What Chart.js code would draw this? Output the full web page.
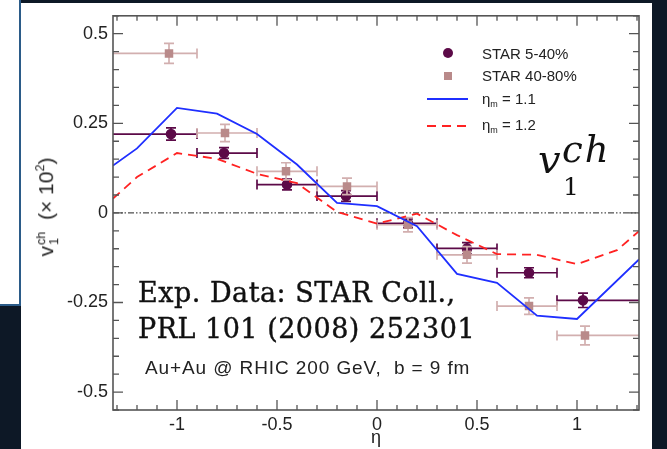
<!DOCTYPE html>
<html>
<head>
<meta charset="utf-8">
<script src="https://cdn.jsdelivr.net/npm/chart.js@4.4.0/dist/chart.umd.min.js"></script>
<style>
  body { margin: 0; background: #0d1826; }
  #wrap { position: relative; width: 667px; height: 449px; overflow: hidden; background: #0d1826; }
  #sidebox { position: absolute; left: 0; top: 0; width: 19px; height: 304px; background: #fff;
             border-right: 2px solid #2b5b88; border-bottom: 2px solid #2b5b88; }
  #panel { position: absolute; left: 21px; top: 3px; width: 631px; height: 446px; background: #fff; }
  canvas { position: absolute; left: 0; top: 0; }
  .txt { position: absolute; white-space: nowrap; line-height: 1; color: #222; }
  .sans { font-family: "Liberation Sans", Arial, sans-serif; }
  .slab { font-family: "DejaVu Serif", serif; color: #111; -webkit-text-stroke: 0.4px #111; }
  .mark { position: absolute; }
  sub.m { font-size: 0.6em; vertical-align: -0.35em; }
  #ytitle { position: absolute; left: 48px; top: 207px; transform: translate(-50%, -50%) rotate(-90deg);
            font-family: "Liberation Sans", Arial, sans-serif; font-size: 21px; color: #222; white-space: nowrap; line-height: 1; }
  .stk { display: inline-block; vertical-align: -0.45em; font-size: 0.6em; line-height: 1.05; margin-left: 1px; }
  .stk span { display: block; }
  .sup2 { font-size: 0.6em; vertical-align: 0.7em; }
</style>
</head>
<body>
<div id="wrap">
  <div id="sidebox"></div>
  <div id="panel"></div>
  <canvas id="v1-chart" width="667" height="449"></canvas>

  <div id="ytitle">v<span class="stk"><span>ch</span><span>1</span></span>&nbsp;&nbsp;(× 10<span class="sup2">2</span>)</div>

  <div class="mark" style="left:443px;top:48px;width:10px;height:10px;border-radius:50%;background:#5c0a48"></div>
  <div class="mark" style="left:444px;top:72px;width:8px;height:8px;background:#b98a8a"></div>
  <div class="mark" style="left:427px;top:98px;width:41px;height:2px;background:#1f2fff"></div>
  <div class="mark" style="left:427px;top:125px;width:41px;height:2px;background:repeating-linear-gradient(to right,#ff2222 0 9px,transparent 9px 15px)"></div>
  <div class="txt sans" style="left:482px;top:46px;font-size:15px">STAR 5-40%</div>
  <div class="txt sans" style="left:482px;top:68px;font-size:15px">STAR 40-80%</div>
  <div class="txt sans" style="left:482px;top:91px;font-size:15px">η<sub class="m">m</sub> = 1.1</div>
  <div class="txt sans" style="left:482px;top:117px;font-size:15px">η<sub class="m">m</sub> = 1.2</div>

  <div class="txt" style="left:538px;top:139px;font-size:40px;font-family:'DejaVu Serif',serif;font-style:italic;color:#111">v</div>
  <div class="txt" style="left:562px;top:131px;font-size:37px;letter-spacing:2px;font-family:'DejaVu Serif',serif;font-style:italic;color:#111">ch</div>
  <div class="txt" style="left:563px;top:174px;font-size:25px;font-family:'DejaVu Serif',serif;color:#111">1</div>

  <div class="txt slab" style="left:138px;top:279px;font-size:27px;letter-spacing:0.5px">Exp. Data: STAR Coll.,</div>
  <div class="txt slab" style="left:138px;top:315px;font-size:27px;letter-spacing:0.5px">PRL 101 (2008) 252301</div>
  <div class="txt sans" style="left:145px;top:358px;font-size:19px;letter-spacing:0.9px">Au+Au @ RHIC 200 GeV,&nbsp; b = 9 fm</div>
</div>

<script>
// STAR data, eta bins shared by both centralities
const etaBinLo = [-1.4, -0.9, -0.6, -0.3, 0.0, 0.3, 0.6, 0.9]
const etaBinHi = [-0.9, -0.6, -0.3, 0.0, 0.3, 0.6, 0.9, 1.4]

const etaCentral = [-1.03, -0.765, -0.45, -0.155, 0.155, 0.45, 0.76, 1.03]
const v1Central = [0.220, 0.167, 0.079, 0.047, -0.029, -0.099, -0.167, -0.244]
const v1CentralErr = [0.017, 0.015, 0.015, 0.015, 0.012, 0.016, 0.014, 0.020]

const etaPeripheral = [-1.04, -0.76, -0.455, -0.15, 0.155, 0.45, 0.76, 1.04]
const v1Peripheral = [0.445, 0.223, 0.116, 0.074, -0.033, -0.117, -0.260, -0.342]
const v1PeripheralErr = [0.028, 0.024, 0.024, 0.023, 0.020, 0.023, 0.023, 0.026]

// model curves
const etaModel11 = [-1.32, -1.2, -1.0, -0.8, -0.6, -0.4, -0.2, 0.0, 0.2, 0.4, 0.6, 0.8, 1.0, 1.31]
const v1Model11 = [0.132, 0.180, 0.293, 0.277, 0.220, 0.135, 0.028, 0.019, -0.037, -0.170, -0.195, -0.287, -0.296, -0.130]

const etaModel12 = [-1.32, -1.2, -1.0, -0.8, -0.6, -0.4, -0.2, 0.0, 0.2, 0.4, 0.6, 0.8, 1.0, 1.2, 1.31]
const v1Model12 = [0.040, 0.100, 0.167, 0.151, 0.109, 0.083, 0.003, -0.030, -0.002, -0.062, -0.115, -0.117, -0.143, -0.104, -0.051]

const xTicks = [-1, -0.5, 0, 0.5, 1]
const yTicks = [-0.5, -0.25, 0, 0.25, 0.5]

const toPoints = (xs, ys) => xs.map((x, i) => ({ x: x, y: ys[i] }))

// error bars drawn under each scatter set's markers
const errorBars = {
    id: "errorBars",
    beforeDatasetDraw(chart, args) {
        const ds = chart.data.datasets[args.index]
        if (!ds.errors) return
        const { ctx, chartArea } = chart
        const x = chart.scales.x, y = chart.scales.y
        ctx.save()
        ctx.beginPath()
        ctx.rect(chartArea.left, chartArea.top, chartArea.width, chartArea.height)
        ctx.clip()
        ctx.strokeStyle = ds.errors.color
        ctx.lineWidth = 1.7
        ds.data.forEach((p, i) => {
            const px = x.getPixelForValue(p.x), py = y.getPixelForValue(p.y)
            const xl = x.getPixelForValue(ds.errors.lo[i]), xh = x.getPixelForValue(ds.errors.hi[i])
            const yt = y.getPixelForValue(p.y + ds.errors.dy[i]), yb = y.getPixelForValue(p.y - ds.errors.dy[i])
            ctx.beginPath()
            ctx.moveTo(xl, py); ctx.lineTo(xh, py)
            ctx.moveTo(xl, py - 5); ctx.lineTo(xl, py + 5)
            ctx.moveTo(xh, py - 5); ctx.lineTo(xh, py + 5)
            ctx.moveTo(px, yt); ctx.lineTo(px, yb)
            ctx.moveTo(px - 5, yt); ctx.lineTo(px + 5, yt)
            ctx.moveTo(px - 5, yb); ctx.lineTo(px + 5, yb)
            ctx.stroke()
        })
        ctx.restore()
    }
}

// box, inward ticks on all four sides, dash-dot zero line
const frame = {
    id: "frame",
    beforeDatasetsDraw(chart) {
        const { ctx, chartArea } = chart
        const y0 = chart.scales.y.getPixelForValue(0)
        ctx.save()
        ctx.strokeStyle = "#222"
        ctx.lineWidth = 1
        ctx.setLineDash([6, 2, 1.5, 2, 1.5, 2])
        ctx.beginPath()
        ctx.moveTo(chartArea.left, y0)
        ctx.lineTo(chartArea.right, y0)
        ctx.stroke()
        ctx.restore()
    },
    afterDraw(chart) {
        const { ctx, chartArea: a } = chart
        const x = chart.scales.x, y = chart.scales.y
        ctx.save()
        ctx.strokeStyle = "#555"
        ctx.lineWidth = 1.6
        ctx.strokeRect(a.left, a.top, a.width, a.height)
        ctx.lineWidth = 1.3
        ctx.beginPath()
        for (let i = Math.ceil(x.min * 10); i <= Math.floor(x.max * 10); i++) {
            const px = x.getPixelForValue(i / 10)
            const len = i % 5 === 0 ? 10 : 5
            ctx.moveTo(px, a.bottom); ctx.lineTo(px, a.bottom - len)
            ctx.moveTo(px, a.top); ctx.lineTo(px, a.top + len)
        }
        for (let i = Math.ceil(y.min * 20); i <= Math.floor(y.max * 20); i++) {
            const py = y.getPixelForValue(i / 20)
            const len = i % 5 === 0 ? 10 : 6
            ctx.moveTo(a.left, py); ctx.lineTo(a.left + len, py)
            ctx.moveTo(a.right, py); ctx.lineTo(a.right - len, py)
        }
        ctx.stroke()
        ctx.restore()
    }
}

const tickFont = { family: "'Liberation Sans', Arial, sans-serif", size: 18 }

new Chart("v1-chart", {
    type: "scatter",
    data: {
        datasets: [
            {
                type: "line",
                label: "η_m = 1.1",
                data: toPoints(etaModel11, v1Model11),
                borderColor: "#1f2fff",
                borderWidth: 1.8,
                pointRadius: 0,
                tension: 0,
                order: 0
            },
            {
                type: "line",
                label: "η_m = 1.2",
                data: toPoints(etaModel12, v1Model12),
                borderColor: "#ff2222",
                borderWidth: 1.8,
                borderDash: [9, 6],
                pointRadius: 0,
                tension: 0,
                order: 1
            },
            {
                label: "STAR 40-80%",
                data: toPoints(etaPeripheral, v1Peripheral),
                pointStyle: "rect",
                pointRadius: 6,
                backgroundColor: "#b98a8a",
                borderWidth: 0,
                errors: { lo: etaBinLo, hi: etaBinHi, dy: v1PeripheralErr, color: "#d2afaf" },
                order: 2
            },
            {
                label: "STAR 5-40%",
                data: toPoints(etaCentral, v1Central),
                pointStyle: "circle",
                pointRadius: 5.3,
                backgroundColor: "#5c0a48",
                borderWidth: 0,
                errors: { lo: etaBinLo, hi: etaBinHi, dy: v1CentralErr, color: "#5c0a48" },
                order: 3
            }
        ]
    },
    options: {
        responsive: false,
        animation: false,
        devicePixelRatio: 1,
        events: [],
        layout: { padding: { top: 13, right: 28, left: 0, bottom: 0 } },
        plugins: {
            legend: { display: false },
            tooltip: { enabled: false }
        },
        scales: {
            x: {
                type: "linear",
                min: -1.32,
                max: 1.31,
                afterBuildTicks: s => { s.ticks = xTicks.map(v => ({ value: v })) },
                afterFit: s => { s.height = 39 },
                grid: { display: false, drawTicks: false },
                border: { display: false },
                ticks: { padding: 4, color: "#222", font: tickFont, maxRotation: 0, callback: v => String(v) },
                title: { display: true, text: "η", color: "#222", font: tickFont, padding: 0 }
            },
            y: {
                type: "linear",
                min: -0.55,
                max: 0.55,
                afterBuildTicks: s => { s.ticks = yTicks.map(v => ({ value: v })) },
                afterFit: s => { s.width = 113 },
                grid: { display: false, drawTicks: false },
                border: { display: false },
                ticks: { padding: 5, color: "#222", font: tickFont, callback: v => String(v) }
            }
        }
    },
    plugins: [errorBars, frame]
})
</script>
</body>
</html>
